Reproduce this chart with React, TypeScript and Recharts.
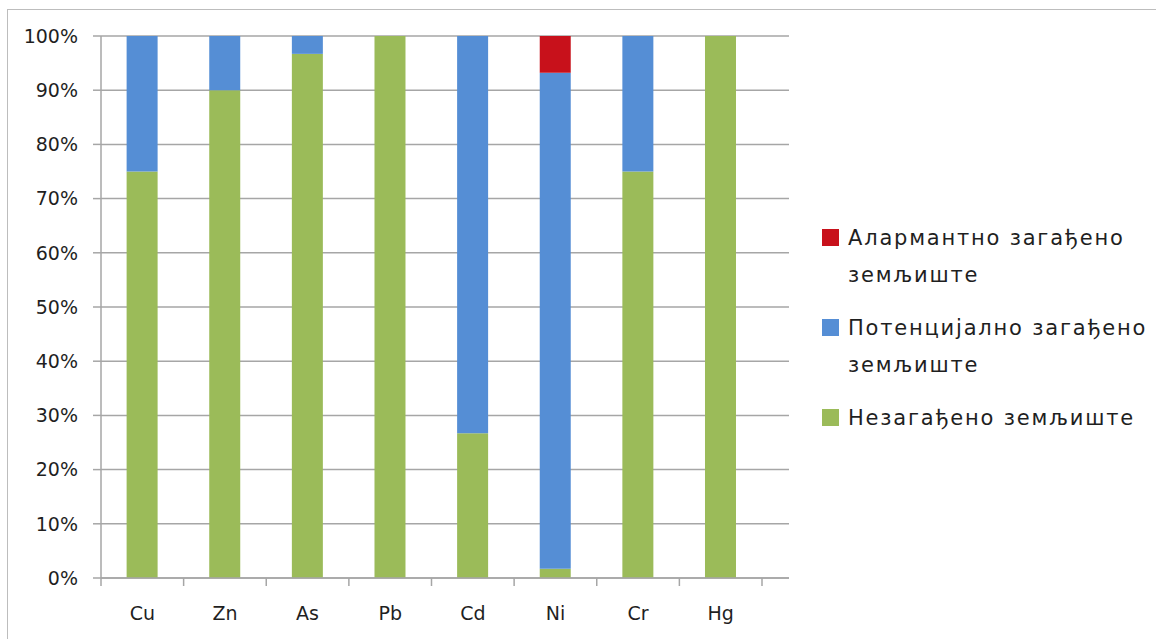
import React from 'react';
import { BarChart, Bar, XAxis, YAxis, CartesianGrid, Legend } from 'recharts';

const categories = ['Cu', 'Zn', 'As', 'Pb', 'Cd', 'Ni', 'Cr', 'Hg'];
const unpolluted = [75, 90, 96.7, 100, 26.7, 1.7, 75, 100];
const potential = [25, 10, 3.3, 0, 73.3, 91.5, 25, 0];
const alarming = [0, 0, 0, 0, 0, 6.8, 0, 0];
const yTicks = [0, 10, 20, 30, 40, 50, 60, 70, 80, 90, 100];

const seriesNames = {
  alarming: 'Алармантно загађено земљиште',
  potential: 'Потенцијално загађено земљиште',
  unpolluted: 'Незагађено земљиште',
};
const colors = { alarming: '#C8111B', potential: '#558ED5', unpolluted: '#9BBB59' };

const data = categories.map((c, i) => ({
  name: c,
  unpolluted: unpolluted[i],
  potential: potential[i],
  alarming: alarming[i],
}));

const FONT = '"DejaVu Sans", Verdana, sans-serif';
const GRID = '#a6a6a6';

const XTick = (props: any) => {
  const { x, y, payload, index, visibleTicksCount } = props;
  const off = payload && payload.offset ? payload.offset : 0;
  return (
    <g>
      <line x1={x - off} x2={x - off} y1={y} y2={y + 8} stroke={GRID} strokeWidth={1.5} />
      {index === visibleTicksCount - 1 && (
        <line x1={x + off} x2={x + off} y1={y} y2={y + 8} stroke={GRID} strokeWidth={1.5} />
      )}
      <text x={x} y={y + 35} textAnchor="middle" dominantBaseline="central" fontFamily={FONT} fontSize={19} fill="#1f1f1f">
        {payload.value}
      </text>
    </g>
  );
};

const renderLegend = () => {
  const order: Array<'alarming' | 'potential' | 'unpolluted'> = ['alarming', 'potential', 'unpolluted'];
  return (
    <div style={{ fontFamily: FONT, fontSize: 21, letterSpacing: 1.8, color: '#1f1f1f' }}>
      {order.map((k) => (
        <div key={k} style={{ display: 'flex', alignItems: 'flex-start', marginBottom: 16 }}>
          <div style={{ width: 17, height: 17, background: colors[k], marginTop: 9, marginRight: 9, flexShrink: 0 }} />
          <div style={{ lineHeight: '37px', width: 310 }}>{seriesNames[k]}</div>
        </div>
      ))}
    </div>
  );
};

export default function App() {
  return (
    <div style={{ position: 'absolute', left: 7, top: 9, width: 1160, height: 640, border: '1px solid #bdbdbd', boxSizing: 'border-box', background: '#fff' }}>
      <BarChart
        width={1148}
        height={629}
        data={data}
        margin={{ top: 26, right: 367, bottom: 31, left: 0 }}
        barCategoryGap="31%"
      >
        <CartesianGrid vertical={false} stroke={GRID} strokeWidth={1.5} />
        <XAxis
          dataKey="name"
          axisLine={{ stroke: GRID, strokeWidth: 1.5 }}
          tickLine={false}
          tickSize={0}
          tickMargin={0}
          height={30}
          padding={{ left: 0, right: 27 }}
          tick={<XTick />}
          interval={0}
        />
        <YAxis
          width={93}
          domain={[0, 100]}
          ticks={yTicks}
          interval={0}
          tickFormatter={(v: number) => `${v}%`}
          axisLine={{ stroke: GRID, strokeWidth: 1.5 }}
          tickLine={{ stroke: GRID, strokeWidth: 1.5 }}
          tickSize={8}
          tickMargin={15}
          tick={{ fontFamily: FONT, fontSize: 19, fill: '#1f1f1f' }}
        />
        <Bar dataKey="unpolluted" stackId="a" fill={colors.unpolluted} isAnimationActive={false} name={seriesNames.unpolluted} />
        <Bar dataKey="potential" stackId="a" fill={colors.potential} isAnimationActive={false} name={seriesNames.potential} />
        <Bar dataKey="alarming" stackId="a" fill={colors.alarming} isAnimationActive={false} name={seriesNames.alarming} />
        <Legend
          layout="vertical"
          align="center"
          verticalAlign="middle"
          content={renderLegend}
          wrapperStyle={{ left: 814, top: 210, width: 340 }}
        />
      </BarChart>
    </div>
  );
}
